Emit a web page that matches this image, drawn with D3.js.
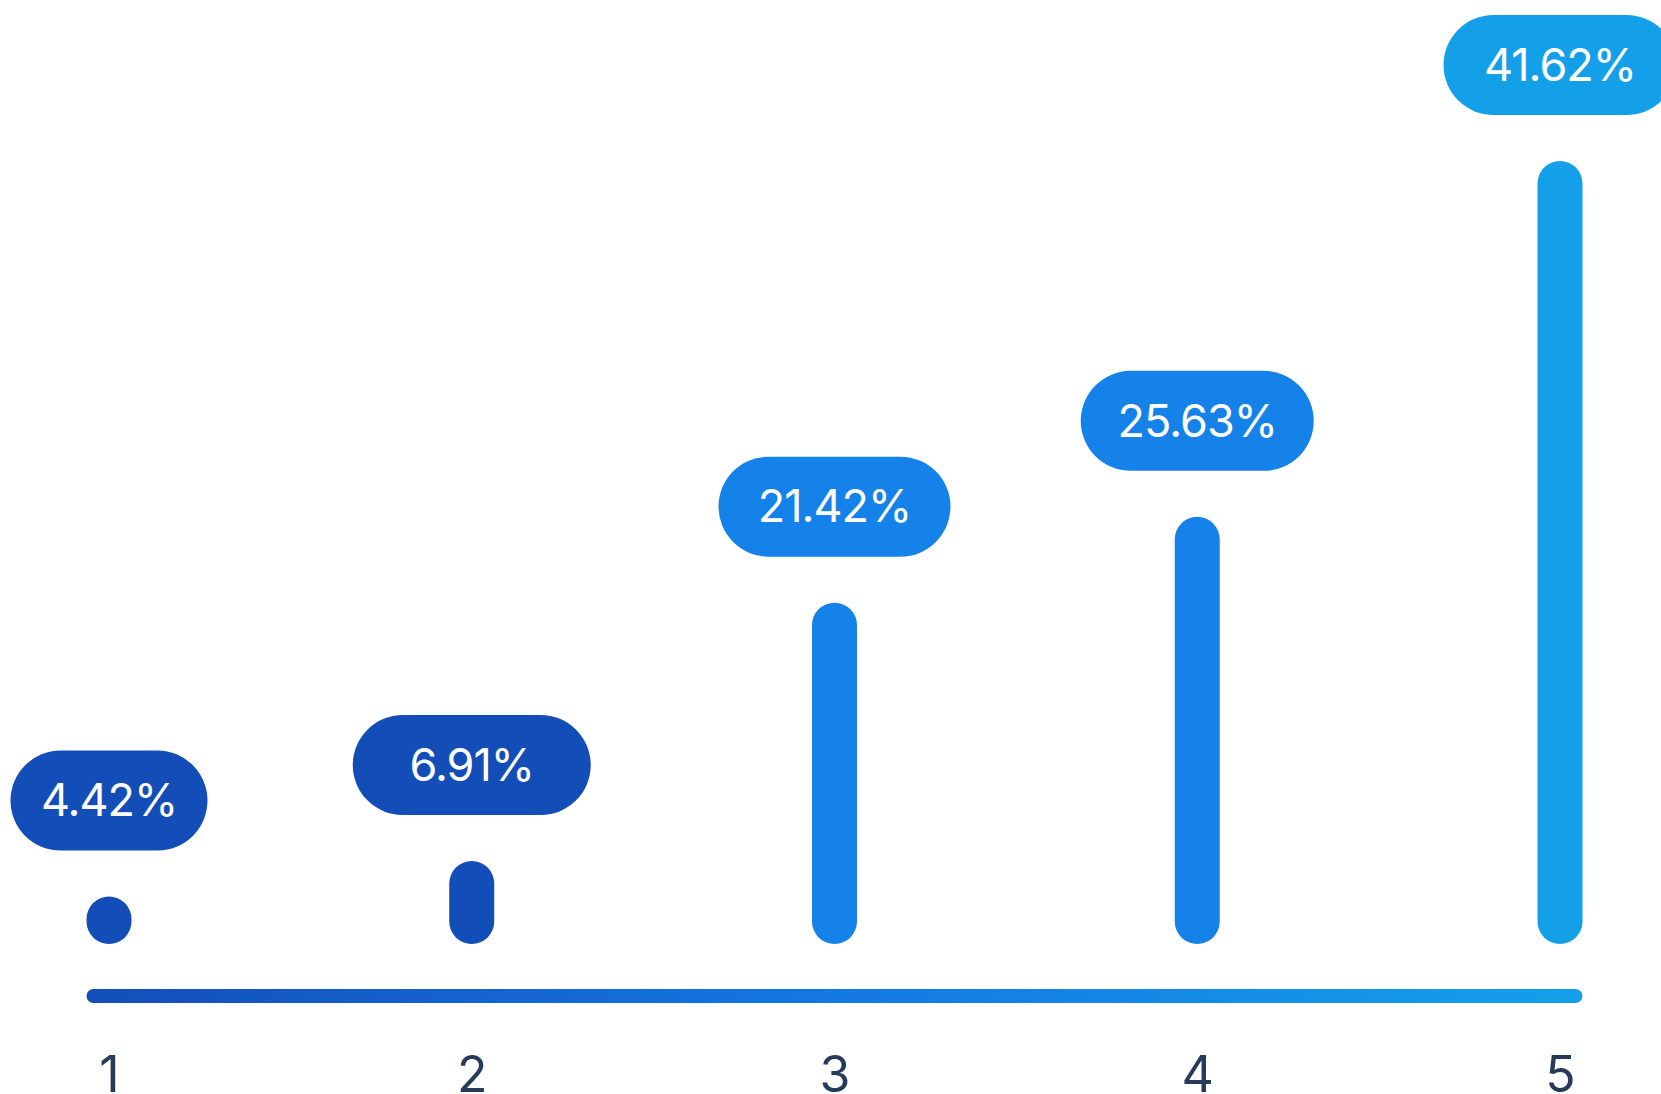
<!DOCTYPE html>
<html>
<head>
<meta charset="utf-8">
<script src="https://cdn.jsdelivr.net/npm/d3@7/dist/d3.min.js"></script>
<style>
  html, body { margin: 0; padding: 0; background: #ffffff; overflow: hidden; }
  svg { display: block; }
</style>
</head>
<body>
<svg id="chart" width="1661" height="1094"></svg>
<script>
// Data
const categories = ["1", "2", "3", "4", "5"];
const shares = [4.42, 6.91, 21.42, 25.63, 41.62];
const shareLabels = shares.map(v => v.toFixed(2) + "%");

// Colours per group
const barColors = ["#134EB8", "#134EB8", "#1482E8", "#1482E8", "#14A0E8"];
const tickColor = "#263A5A";
const fontFamily = "Inter, 'Noto Sans', sans-serif";

// Layout
const W = 1661, H = 1094;
const barWidth = 45;
const baseY = 944;
const pillHeight = 100;
const pillGap = 46;
const pillWidths = [197, 238, 232, 233, 233];

const svg = d3.select("#chart");

const x = d3.scalePoint()
  .domain(categories)
  .range([109, 1560]);

const y = d3.scalePow()
  .exponent(1.25)
  .domain([0, d3.max(shares)])
  .range([baseY, 161]);

// Gradient for the baseline track
const defs = svg.append("defs");
const grad = defs.append("linearGradient")
  .attr("id", "trackGradient")
  .attr("x1", "0%").attr("x2", "100%")
  .attr("y1", "0%").attr("y2", "0%");
grad.append("stop").attr("offset", "0%").attr("stop-color", "#134EB8");
grad.append("stop").attr("offset", "50%").attr("stop-color", "#1478E2");
grad.append("stop").attr("offset", "100%").attr("stop-color", "#14A0E8");

// Baseline track spanning the outer bar edges
const trackX0 = x(categories[0]) - barWidth / 2;
const trackX1 = x(categories[categories.length - 1]) + barWidth / 2;
svg.append("rect")
  .attr("x", trackX0)
  .attr("y", 989)
  .attr("width", trackX1 - trackX0)
  .attr("height", 14)
  .attr("rx", 7)
  .attr("fill", "url(#trackGradient)");

const data = categories.map((c, i) => ({
  cat: c, value: shares[i], label: shareLabels[i], color: barColors[i], pw: pillWidths[i]
}));

// Bars with fully rounded ends
svg.append("g")
  .selectAll("rect")
  .data(data)
  .join("rect")
  .attr("x", d => x(d.cat) - barWidth / 2)
  .attr("y", d => y(d.value))
  .attr("width", barWidth)
  .attr("height", d => baseY - y(d.value))
  .attr("rx", barWidth / 2)
  .attr("fill", d => d.color);

// Value pills above each bar
const pills = svg.append("g")
  .selectAll("g")
  .data(data)
  .join("g")
  .attr("transform", d => `translate(${x(d.cat)},${y(d.value) - pillGap - pillHeight / 2})`);

pills.append("rect")
  .attr("fill", d => d.color)
  .attr("x", d => -d.pw / 2)
  .attr("width", d => d.pw)
  .attr("y", -pillHeight / 2)
  .attr("height", pillHeight)
  .attr("rx", pillHeight / 2);

pills.append("text")
  .attr("text-anchor", "middle")
  .attr("dy", "0.35em")
  .attr("fill", "#ffffff")
  .style("font-family", fontFamily)
  .style("font-size", "45px")
  .style("letter-spacing", "-1px")
  .text(d => d.label);

// Category axis
const axis = svg.append("g")
  .attr("transform", `translate(0,1092)`)
  .call(d3.axisBottom(x).tickSize(0).tickPadding(0));
axis.select(".domain").remove();
axis.selectAll("text")
  .attr("y", 0)
  .attr("dy", null)
  .attr("fill", tickColor)
  .style("font-family", fontFamily)
  .style("font-size", "50px");
</script>
</body>
</html>
